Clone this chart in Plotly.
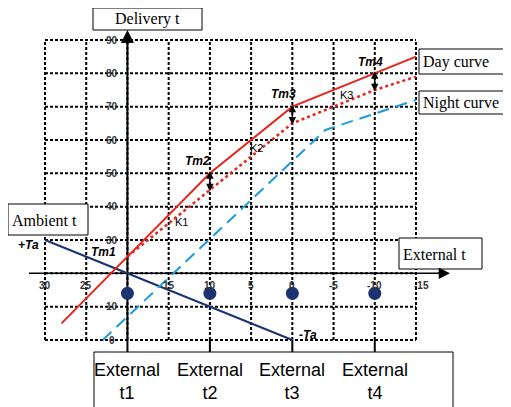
import plotly.graph_objects as go

# ---------------- data ----------------
ext_ticks = [30, 25, 20, 15, 10, 5, 0, -5, -10, -15]
ext_tick_labels = ["30", "25", "", "15", "10", "5", "0", "-5", "-10", "-15"]
deliv_ticks = [0, 10, 20, 30, 40, 50, 60, 70, 80, 90]
deliv_tick_labels = ["0", "10", "", "30", "40", "50", "60", "70", "80", "90"]

day_x = [28, 20, 10, 0, -10, -15]
day_y = [5, 25, 50, 70, 80, 85]

reduced_x = [20, 10, 0, -10, -15]
reduced_y = [25, 45, 65, 75, 79]

night_x = [23, -4, -15]
night_y = [0, 63, 72]

ambient_x = [30, 0]
ambient_y = [30, 0]

point_x = [20, 10, 0, -10]
point_y = [14, 14, 14, 14]
point_labels = ["External<br>t1", "External<br>t2", "External<br>t3", "External<br>t4"]

tm_labels = ["Tm1", "Tm2", "Tm3", "Tm4"]
tm_x = [20, 10, 0, -10]
tm_y = [25, 50, 70, 80]

k_labels = ["K1", "K2", "K3"]
k_x = [13.5, 4.3, -6.6]
k_y = [35.5, 57.5, 73.5]

axis_cross_x = 20
axis_cross_y = 20

# ---------------- geometry helpers (screen pixel -> data / paper) ----------------
OFF = 8                      # page body margin
W, H = 511 - OFF, 407 - OFF
PXU = (416 - 45) / 45.0      # px per external-temp unit
PYU = (340 - 40) / 90.0      # px per delivery-temp unit


def X(px):
    return 30 - (px - 45) / PXU


def Y(py):
    return (340 - py) / PYU


def PX(px):
    return (px - OFF) / W


def PY(py):
    return 1 - (py - OFF) / H


RED = "#e3261e"
BLUE = "#1a9be0"
NAVY = "#1c3372"
SANS = "Liberation Sans, Arial, sans-serif"
SERIF = "Liberation Serif, Times New Roman, serif"

fig = go.Figure()

shapes = []
# dotted grid
for t in ext_ticks:
    shapes.append(dict(type="line", xref="x", yref="y", x0=t, x1=t,
                       y0=min(deliv_ticks), y1=max(deliv_ticks),
                       line=dict(color="black", width=2, dash="3px,2px"), layer="below"))
for t in deliv_ticks:
    shapes.append(dict(type="line", xref="x", yref="y", y0=t, y1=t,
                       x0=max(ext_ticks), x1=min(ext_ticks),
                       line=dict(color="black", width=2, dash="3px,2px"), layer="below"))
# solid axes
shapes.append(dict(type="line", xref="x", yref="y", x0=axis_cross_x, x1=axis_cross_x,
                   y0=Y(352), y1=Y(40), line=dict(color="black", width=2), layer="below"))
shapes.append(dict(type="line", xref="x", yref="y", y0=axis_cross_y, y1=axis_cross_y,
                   x0=X(29), x1=X(440), line=dict(color="black", width=1.5), layer="below"))
# short ticks down to the bottom box
for t in point_x[1:]:
    shapes.append(dict(type="line", xref="x", yref="y", x0=t, x1=t,
                       y0=min(deliv_ticks), y1=Y(352),
                       line=dict(color="black", width=2), layer="below"))
# boxes
boxes = [(93, 8, 202, 30), (419, 49, 512, 74), (419, 91, 512, 114),
         (8, 204, 88, 235), (399, 238, 482, 269), (94, 352, 453, 412)]
for (x0, y0, x1, y1) in boxes:
    shapes.append(dict(type="rect", xref="paper", yref="paper", x0=PX(x0), x1=PX(x1),
                       y0=PY(y1), y1=PY(y0), line=dict(color="black", width=1),
                       fillcolor="white", layer="above"))

# traces
fig.add_trace(go.Scatter(x=ambient_x, y=ambient_y, mode="lines",
                         line=dict(color=NAVY, width=2), hoverinfo="skip"))
fig.add_trace(go.Scatter(x=night_x, y=night_y, mode="lines",
                         line=dict(color=BLUE, width=2, dash="12px,7px"), hoverinfo="skip"))
fig.add_trace(go.Scatter(x=reduced_x, y=reduced_y, mode="lines",
                         line=dict(color=RED, width=2.5, dash="3px,3px"), hoverinfo="skip"))
fig.add_trace(go.Scatter(x=day_x, y=day_y, mode="lines",
                         line=dict(color=RED, width=2), hoverinfo="skip"))
fig.add_trace(go.Scatter(x=point_x, y=point_y, mode="markers",
                         marker=dict(color=NAVY, size=13), hoverinfo="skip"))

ann = []
# tick labels
for t, lab in zip(ext_ticks, ext_tick_labels):
    if lab:
        ann.append(dict(x=t, y=axis_cross_y, xref="x", yref="y", text="<b>%s</b>" % lab,
                        showarrow=False, xanchor="center", yanchor="middle",
                        yshift=-12, xshift=(5 if t == -15 else 0),
                        font=dict(family=SANS, size=10, color="#333")))
for t, lab in zip(deliv_ticks, deliv_tick_labels):
    if lab:
        ann.append(dict(x=axis_cross_x, y=t, xref="x", yref="y", text="<b>%s</b>" % lab,
                        showarrow=False, xanchor="center", yanchor="middle",
                        xshift=-15, font=dict(family=SANS, size=10, color="#333")))
# axis arrowheads
ann.append(dict(x=axis_cross_x, y=Y(30), ax=axis_cross_x, ay=Y(45), xref="x", yref="y",
                axref="x", ayref="y", text="", showarrow=True, arrowhead=2,
                arrowsize=1.3, arrowwidth=2, arrowcolor="black"))
ann.append(dict(x=X(450), y=axis_cross_y, ax=X(436), ay=axis_cross_y, xref="x", yref="y",
                axref="x", ayref="y", text="", showarrow=True, arrowhead=2,
                arrowsize=1.5, arrowwidth=1.5, arrowcolor="black"))
# double arrows between day and reduced curve
day_map = dict(zip(day_x, day_y))
red_map = dict(zip(reduced_x, reduced_y))
for t in tm_x[1:]:
    ann.append(dict(x=t, y=day_map[t] + 0.6, ax=t, ay=red_map[t] - 0.8, xref="x", yref="y",
                    axref="x", ayref="y", text="", showarrow=True, arrowhead=2,
                    startarrowhead=2, arrowside="end+start", arrowsize=1.0,
                    startarrowsize=1.0, arrowwidth=1.5, arrowcolor="black"))
# Tm labels
tm_shift = [(-24, 5), (-12, 12), (-9, 13), (-4, 11)]
for lab, x, y, (dx, dy) in zip(tm_labels, tm_x, tm_y, tm_shift):
    ann.append(dict(x=x, y=y, xref="x", yref="y", text="<b><i>%s</i></b>" % lab,
                    showarrow=False, xshift=dx, yshift=dy, xanchor="center", yanchor="middle",
                    font=dict(family=SANS, size=12, color="black")))
# K labels
for lab, x, y in zip(k_labels, k_x, k_y):
    ann.append(dict(x=x, y=y, xref="x", yref="y", text=lab, showarrow=False,
                    xanchor="center", yanchor="middle",
                    font=dict(family=SANS, size=11, color="black")))
# +Ta / -Ta
ann.append(dict(x=ambient_x[0], y=ambient_y[0], xref="x", yref="y", text="<b><i>+Ta</i></b>",
                showarrow=False, xshift=-17, yshift=-5, xanchor="center", yanchor="middle",
                font=dict(family=SANS, size=12, color="black")))
ann.append(dict(x=ambient_x[-1], y=ambient_y[-1], xref="x", yref="y", text="<b><i>-Ta</i></b>",
                showarrow=False, xshift=16, yshift=5, xanchor="center", yanchor="middle",
                font=dict(family=SANS, size=12, color="black")))
# box texts
box_texts = [("Delivery t", 147, 19, "center"), ("Day curve", 421, 62, "left"),
             ("Night curve", 421, 103, "left"), ("Ambient t", 10, 220, "left"),
             ("External t", 401, 254, "left")]
for txt, bx, by, anc in box_texts:
    ann.append(dict(x=PX(bx), y=PY(by), xref="paper", yref="paper", text=txt,
                    xanchor=anc, yanchor="middle", showarrow=False,
                    font=dict(family=SERIF, size=16, color="black")))
# bottom box labels
for lab, x in zip(point_labels, point_x):
    ann.append(dict(x=x, y=PY(381.5), xref="x", yref="paper", text=lab, showarrow=False,
                    xanchor="center", yanchor="middle",
                    font=dict(family=SANS, size=18, color="black")))

fig.update_layout(
    width=W, height=H, autosize=False,
    margin=dict(l=0, r=0, t=0, b=0, pad=0),
    paper_bgcolor="white", plot_bgcolor="white",
    showlegend=False,
    xaxis=dict(range=[X(OFF), X(OFF + W)], visible=False, fixedrange=True),
    yaxis=dict(range=[Y(OFF + H), Y(OFF)], visible=False, fixedrange=True),
    shapes=shapes,
    annotations=ann,
)

fig.write_html("out.html")
